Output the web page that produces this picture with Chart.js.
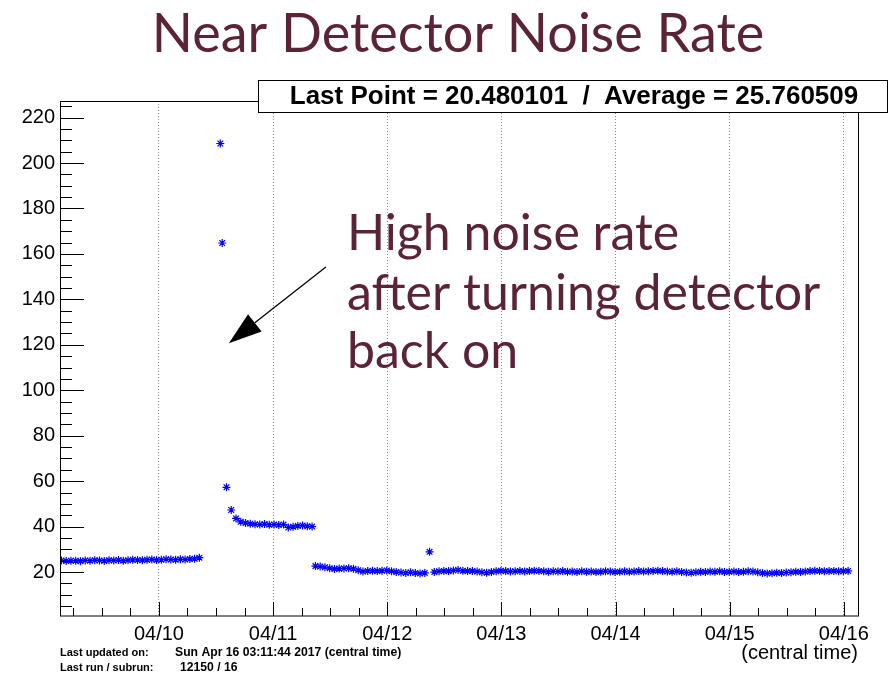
<!DOCTYPE html>
<html>
<head>
<meta charset="utf-8">
<title>Near Detector Noise Rate</title>
<script src="https://cdn.jsdelivr.net/npm/chart.js@4.4.1/dist/chart.umd.min.js"></script>
<style>
  html, body { margin: 0; padding: 0; background: #fff; }
  #wrap { width: 893px; height: 675px; }
</style>
</head>
<body>
<div id="wrap"><canvas id="noise" width="893" height="675"></canvas></div>
<script>
// x values are hours since 04/09 00:00 (central time)

// before the detector was switched off
const beforeHours = [3.5, 4.5, 5.5, 6.5, 7.5, 8.5, 9.5, 10.5, 11.5, 12.5, 13.5, 14.5, 15.5, 16.5, 17.5,
    18.5, 19.5, 20.5, 21.5, 22.5, 23.5, 24.5, 25.5, 26.5, 27.5, 28.5, 29.5, 30.5, 31.5, 32.5];
const beforeRate = [25.1, 24.9, 25.0, 25.0, 24.8, 25.1, 25.0, 25.2, 25.1, 24.9, 25.2, 25.1, 25.3, 25.0, 25.2,
    25.4, 25.3, 25.2, 25.4, 25.5, 25.3, 25.4, 25.6, 25.5, 25.4, 25.6, 25.5, 25.7, 25.8, 26.3];

// right after turning it back on
const restartHours = [36.9, 37.3, 38.2, 39.2, 40.2, 41.2, 42.2, 43.2, 44.2, 45.2, 46.2, 47.2, 48.2, 49.2,
    50.2, 51.2, 52.2, 53.2, 54.2, 55.2, 56.2];
const restartRate = [208.6, 164.8, 57.3, 47.3, 43.6, 42.1, 41.6, 41.3, 41.0, 40.9, 41.1, 40.8, 40.9, 40.7,
    40.9, 39.6, 39.9, 40.3, 40.5, 40.2, 40.0];

// settled again
const afterHours = [56.9, 57.9, 58.9, 59.9, 60.9, 61.9, 62.9, 63.9, 64.9, 65.9, 66.9, 67.9, 68.9, 69.9,
    70.9, 71.9, 72.9, 73.9, 74.9, 75.9, 76.9, 77.9, 78.9, 79.9, 80.9, 81.9, 82.9, 83.9, 84.9, 85.9, 86.9,
    87.9, 88.9, 89.9, 90.9, 91.9, 92.9, 93.9, 94.9, 95.9, 96.9, 97.9, 98.9, 99.9, 100.9, 101.9, 102.9,
    103.9, 104.9, 105.9, 106.9, 107.9, 108.9, 109.9, 110.9, 111.9, 112.9, 113.9, 114.9, 115.9, 116.9,
    117.9, 118.9, 119.9, 120.9, 121.9, 122.9, 123.9, 124.9, 125.9, 126.9, 127.9, 128.9, 129.9, 130.9,
    131.9, 132.9, 133.9, 134.9, 135.9, 136.9, 137.9, 138.9, 139.9, 140.9, 141.9, 142.9, 143.9, 144.9,
    145.9, 146.9, 147.9, 148.9, 149.9, 150.9, 151.9, 152.9, 153.9, 154.9, 155.9, 156.9, 157.9, 158.9,
    159.9, 160.9, 161.9, 162.9, 163.9, 164.9, 165.9, 166.9, 167.9, 168.9];
const afterRate = [22.6, 22.4, 22.1, 21.7, 21.3, 21.5, 21.6, 21.7, 21.4, 20.8, 20.2, 20.5, 20.6, 20.4,
    20.6, 20.7, 20.3, 20.0, 19.8, 19.6, 19.9, 19.6, 19.4, 19.6, 28.9, 20.0, 20.3, 20.5, 20.4, 20.7, 20.9,
    20.6, 20.4, 20.5, 20.2, 19.9, 19.7, 20.0, 20.3, 20.6, 20.4, 20.2, 20.3, 20.5, 20.2, 20.4, 20.6,
    20.5, 20.3, 20.1, 20.3, 20.2, 20.4, 20.1, 20.2, 20.0, 20.3, 20.1, 20.2, 20.0, 20.1,
    20.3, 20.2, 20.0, 20.1, 20.3, 20.1, 20.2, 20.4, 20.2, 20.3, 20.5, 20.6, 20.4, 20.2,
    20.1, 20.3, 20.0, 19.8, 19.7, 19.9, 20.1, 20.0, 20.2, 20.1, 20.3, 20.0, 20.1, 20.2,
    20.0, 20.1, 20.3, 20.2, 19.9, 19.6, 19.4, 19.5, 19.7, 19.6, 19.8, 19.9, 20.1, 20.0,
    20.2, 20.4, 20.6, 20.5, 20.3, 20.4, 20.5, 20.3, 20.4, 20.48];

const dayLabels = ['04/10', '04/11', '04/12', '04/13', '04/14', '04/15', '04/16'];
const lastPoint = '20.480101';
const average   = '25.760509';
const lastUpdated = 'Sun Apr 16 03:11:44 2017 (central time)';
const lastRun = '12150 / 16';

// 7-day window ending at the last update (04/16 03:11)
const xMin = 3.195, xMax = 171.195;
const yMin = 0.65, yMax = 227.3;

const maroon = '#5b2336';

function toPoints(hs, vs) {
    return hs.map((h, i) => ({ x: h, y: vs[i] }));
}

const points = [
    ...toPoints(beforeHours, beforeRate),
    ...toPoints(restartHours, restartRate),
    ...toPoints(afterHours, afterRate)
];

// ROOT-ish frame, inward ticks, labels and the annotation
const decorations = {
    id: 'decorations',
    afterDraw(chart) {
        const { ctx, chartArea: a, scales: { x, y } } = chart;
        ctx.save();

        // frame
        ctx.strokeStyle = '#000';
        ctx.lineWidth = 1;
        ctx.strokeRect(a.left + 0.5, a.top + 0.5, a.right - a.left - 1, a.bottom - a.top - 0.5);

        // y ticks: major every 20, minor every 5
        ctx.beginPath();
        for (let v = 5; v <= yMax; v += 5) {
            if (v < yMin) continue;
            const py = Math.round(y.getPixelForValue(v)) + 0.5;
            const len = v % 20 === 0 ? 24 : 12;
            ctx.moveTo(a.left, py);
            ctx.lineTo(a.left + len, py);
        }
        // x ticks: major every day, minor every 6 h
        for (let h = 6; h <= xMax; h += 6) {
            if (h < xMin) continue;
            const px = Math.round(x.getPixelForValue(h)) + 0.5;
            const len = h % 24 === 0 ? 14 : 8;
            ctx.moveTo(px, a.bottom);
            ctx.lineTo(px, a.bottom - len);
        }
        ctx.stroke();

        // stats box
        ctx.fillStyle = '#fff';
        ctx.fillRect(258, 80, 630, 32);
        ctx.strokeRect(258.5, 80.5, 629, 32);
        ctx.fillStyle = '#000';
        ctx.font = 'bold 26px "Liberation Sans", Arial, sans-serif';
        ctx.textAlign = 'center';
        ctx.textBaseline = 'middle';
        ctx.fillText('Last Point = ' + lastPoint + '  /  Average = ' + average, 574, 97);

        // axis caption
        ctx.font = '20px "Liberation Sans", Arial, sans-serif';
        ctx.textAlign = 'right';
        ctx.fillText('(central time)', 858, 653);

        // footer
        ctx.textAlign = 'left';
        ctx.font = 'bold 11px "Liberation Sans", Arial, sans-serif';
        ctx.fillText('Last updated on:', 60, 653);
        ctx.fillText('Last run / subrun:', 60, 668);
        ctx.font = 'bold 12.2px "Liberation Sans", Arial, sans-serif';
        ctx.fillText(lastUpdated, 175, 653);
        ctx.fillText(lastRun, 180, 668);

        // title
        ctx.fillStyle = maroon;
        ctx.textAlign = 'center';
        ctx.textBaseline = 'alphabetic';
        ctx.font = '54px Lato, "Noto Sans", sans-serif';
        ctx.fillText('Near Detector Noise Rate', 458, 52);

        // annotation text
        ctx.textAlign = 'left';
        ctx.font = '50px Lato, "Noto Sans", sans-serif';
        ctx.fillText('High noise rate', 347, 250);
        ctx.fillText('after turning detector', 347, 310);
        ctx.fillText('back on', 347, 368);

        // arrow, anchored in data coordinates
        const x0 = x.getPixelForValue(59.1), y0 = y.getPixelForValue(154.2);
        const x1 = x.getPixelForValue(38.7), y1 = y.getPixelForValue(120.7);
        const ang = Math.atan2(y1 - y0, x1 - x0);
        const headLen = 33, headHalf = 11;
        const bx = x1 - headLen * Math.cos(ang), by = y1 - headLen * Math.sin(ang);
        ctx.strokeStyle = '#000';
        ctx.lineWidth = 1.3;
        ctx.beginPath();
        ctx.moveTo(x0, y0);
        ctx.lineTo(bx, by);
        ctx.stroke();
        ctx.fillStyle = '#000';
        ctx.beginPath();
        ctx.moveTo(x1, y1);
        ctx.lineTo(bx + headHalf * Math.sin(ang), by - headHalf * Math.cos(ang));
        ctx.lineTo(bx - headHalf * Math.sin(ang), by + headHalf * Math.cos(ang));
        ctx.closePath();
        ctx.fill();

        ctx.restore();
    }
};

new Chart(document.getElementById('noise').getContext('2d'), {
    type: 'scatter',
    data: {
        datasets: [{
            label: 'Noise rate',
            data: points,
            pointStyle: 'star',
            pointRadius: 4,
            pointBorderWidth: 1.2,
            borderColor: '#0000ff',
            backgroundColor: '#0000ff'
        }]
    },
    options: {
        responsive: false,
        animation: false,
        events: [],
        layout: { padding: { top: 101, right: 34, bottom: 0, left: 0 } },
        plugins: {
            legend: { display: false },
            tooltip: { enabled: false }
        },
        scales: {
            x: {
                type: 'linear',
                min: xMin,
                max: xMax,
                afterFit: s => { s.height = 59; },
                // one tick (and grid line) at each midnight
                afterBuildTicks: s => { s.ticks = dayLabels.map((l, i) => ({ value: 24 * (i + 1) })); },
                ticks: {
                    autoSkip: false,
                    maxRotation: 0,
                    padding: 6,
                    color: '#000',
                    font: { family: '"Liberation Sans", Arial, sans-serif', size: 20 },
                    callback: v => dayLabels[Math.round(v / 24) - 1] || ''
                },
                grid: { color: '#888', lineWidth: 1, drawTicks: false },
                border: { display: false, dash: [1, 2] }
            },
            y: {
                min: yMin,
                max: yMax,
                afterFit: s => { s.width = 60; },
                ticks: {
                    stepSize: 20,
                    includeBounds: false,
                    padding: 5,
                    color: '#000',
                    font: { family: '"Liberation Sans", Arial, sans-serif', size: 20 }
                },
                grid: { display: false, drawTicks: false },
                border: { display: false }
            }
        }
    },
    plugins: [decorations]
});
</script>
</body>
</html>
